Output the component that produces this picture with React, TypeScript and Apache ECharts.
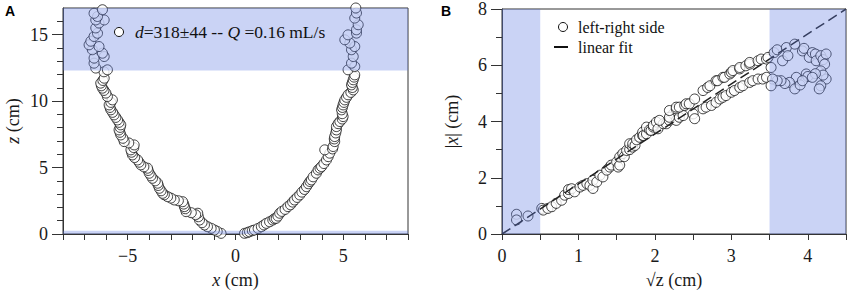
import React, { useEffect, useRef } from "react";
import * as echarts from "echarts";

// ---------- Panel A data: interface shape (x, z) in cm ----------
const leftBranch: number[][] = [
  [-0.67, 0.05], [-0.85, 0.2], [-0.98, 0.3], [-1.13, 0.43], [-1.3, 0.55], [-1.44, 0.68], [-1.55, 0.85],
  [-1.67, 1.05], [-1.72, 1.3], [-1.75, 1.56], [-1.85, 1.45], [-2.05, 1.6], [-2.29, 1.68], [-2.33, 1.9],
  [-2.37, 2.06], [-2.4, 2.25], [-2.45, 2.43], [-2.65, 2.5], [-2.84, 2.56], [-3.0, 2.7], [-3.15, 2.81],
  [-3.3, 2.95], [-3.38, 3.06], [-3.45, 3.25], [-3.53, 3.44], [-3.58, 3.65], [-3.61, 3.82], [-3.72, 4.0],
  [-3.85, 4.19], [-3.92, 4.38], [-4.0, 4.57], [-4.05, 4.78], [-4.08, 4.95], [-4.25, 5.05], [-4.39, 5.2],
  [-4.47, 5.4], [-4.54, 5.57], [-4.68, 5.75], [-4.78, 5.95], [-4.82, 6.15], [-4.85, 6.33], [-4.72, 6.5],
  [-4.7, 6.7], [-4.95, 6.85], [-5.16, 6.95], [-5.22, 7.2], [-5.32, 7.45], [-5.36, 7.65], [-5.4, 7.83],
  [-5.35, 8.02], [-5.32, 8.21], [-5.4, 8.4], [-5.47, 8.58], [-5.55, 8.77], [-5.63, 8.96], [-5.7, 9.15],
  [-5.78, 9.34], [-5.82, 9.52], [-5.86, 9.71], [-5.78, 9.9], [-5.71, 10.09], [-5.94, 10.34], [-6.01, 10.6],
  [-6.1, 10.8], [-6.17, 10.97], [-6.22, 11.15], [-6.25, 11.35], [-6.15, 11.55], [-6.09, 11.72], [-6.1, 12.2],
  [-5.94, 12.35], [-6.48, 12.48], [-6.56, 12.85], [-6.56, 13.23], [-6.09, 13.35], [-6.17, 13.6], [-6.64, 13.86],
  [-6.33, 14.1], [-6.79, 14.23], [-6.71, 14.5], [-6.56, 14.86], [-6.4, 15.1], [-6.48, 15.5], [-6.33, 15.87],
  [-6.09, 16.1], [-6.48, 16.1], [-6.4, 16.36], [-6.56, 16.6], [-6.17, 16.87],
];
const rightBranch: number[][] = [
  [0.42, 0.05], [0.55, 0.1], [0.65, 0.17], [0.78, 0.25], [0.88, 0.3], [1.05, 0.42], [1.2, 0.55], [1.32, 0.68],
  [1.43, 0.8], [1.58, 0.92], [1.73, 1.05], [1.81, 1.15], [1.89, 1.18], [1.97, 1.35], [2.05, 1.56], [2.15, 1.7],
  [2.3, 1.85], [2.43, 2.06], [2.55, 2.2], [2.65, 2.4], [2.74, 2.56], [2.86, 2.75], [2.98, 2.94], [3.08, 3.15],
  [3.2, 3.35], [3.29, 3.56], [3.38, 3.78], [3.45, 3.95], [3.52, 4.07], [3.6, 4.3], [3.75, 4.57], [3.83, 4.82],
  [3.92, 4.95], [3.99, 5.07], [4.1, 5.3], [4.22, 5.57], [4.3, 5.82], [4.37, 6.08], [4.14, 6.33], [4.5, 6.4],
  [4.53, 6.58], [4.6, 6.95], [4.58, 7.15], [4.6, 7.33], [4.65, 7.6], [4.68, 7.83], [4.68, 8.08], [4.76, 8.3],
  [4.84, 8.46], [4.95, 8.65], [4.99, 8.83], [4.95, 9.05], [4.92, 9.34], [4.96, 9.52], [4.99, 9.71], [5.03, 9.9],
  [5.07, 10.09], [5.15, 10.28], [5.22, 10.47], [5.35, 10.65], [5.46, 10.84], [5.42, 11.02], [5.38, 11.22],
  [5.42, 11.4], [5.46, 11.6], [5.5, 11.8], [5.53, 11.97], [5.22, 12.35], [5.53, 12.6], [5.38, 12.85],
  [5.46, 13.35], [5.38, 13.86], [5.53, 14.1], [5.3, 14.36], [5.07, 14.61], [5.22, 14.98], [5.61, 15.11],
  [5.61, 15.36], [5.69, 15.74], [5.53, 16.24], [5.61, 16.62], [5.58, 17.0],
];
// shaded bands in panel A: [xFrom, xTo, zFrom, zTo]
const shadeA: number[][] = [[-8, 8, 12.3, 17], [-8, 8, 0, 0.25]];

// ---------- Panel B data: |x| vs sqrt(z) ----------
const sideLow: number[][] = [
  [0.19, 0.7], [0.19, 0.5], [0.34, 0.64],
  [0.52, 0.91], [0.54, 0.85], [0.6, 0.91], [0.65, 0.97], [0.71, 1.09], [0.78, 1.2], [0.82, 1.38], [0.87, 1.44],
  [0.87, 1.58], [0.91, 1.61], [0.95, 1.5], [1.02, 1.67], [1.06, 1.73], [1.11, 1.79], [1.15, 1.73], [1.19, 1.62],
  [1.19, 1.91], [1.24, 1.85], [1.28, 2.09], [1.32, 2.03], [1.37, 2.27], [1.41, 2.38], [1.43, 2.45], [1.5, 2.56],
  [1.52, 2.38], [1.54, 2.45], [1.54, 2.74], [1.58, 2.86], [1.6, 2.75], [1.63, 2.97], [1.67, 3.0], [1.67, 3.21],
  [1.71, 3.09], [1.71, 3.21], [1.74, 3.15], [1.76, 3.35], [1.8, 3.44], [1.84, 3.5], [1.84, 3.62], [1.85, 3.5],
  [1.89, 3.56], [1.89, 3.8], [1.93, 3.7], [1.95, 3.68], [1.98, 3.8], [1.98, 3.86], [2.02, 3.98],
];
const sideUpperBand: number[][] = [
  [2.06, 4.04], [2.19, 4.15], [2.19, 4.39], [2.28, 4.45], [2.28, 4.51], [2.32, 4.51], [2.39, 4.57], [2.41, 4.63],
  [2.45, 4.63], [2.52, 4.8], [2.63, 5.1], [2.69, 5.21], [2.72, 5.27], [2.8, 5.45], [2.82, 5.45], [2.89, 5.57],
  [2.91, 5.57], [2.98, 5.69], [3.0, 5.75], [3.02, 5.81], [3.11, 5.87], [3.11, 5.92], [3.19, 5.98], [3.24, 6.04],
  [3.24, 6.1], [3.35, 6.16], [3.39, 6.22], [3.46, 6.22],
];
const sideLowerBand: number[][] = [
  [2.04, 3.74], [2.11, 3.92], [2.15, 3.92], [2.19, 4.04], [2.24, 4.27], [2.28, 4.04], [2.32, 4.15], [2.37, 4.21],
  [2.5, 4.27], [2.52, 4.1], [2.63, 4.45], [2.67, 4.51], [2.74, 4.57], [2.8, 4.68], [2.85, 4.8], [2.89, 4.86],
  [2.93, 4.92], [3.0, 5.04], [3.04, 5.1], [3.11, 5.21], [3.15, 5.27], [3.24, 5.39], [3.28, 5.45], [3.35, 5.51],
  [3.41, 5.51], [3.46, 5.57],
];
const sideTop: number[][] = [
  [3.48, 6.28], [3.56, 6.45], [3.6, 6.55], [3.67, 6.16], [3.72, 6.63], [3.74, 6.34], [3.83, 6.75], [3.93, 6.51],
  [3.95, 6.6], [4.02, 6.28], [4.06, 6.45], [4.1, 6.4], [4.11, 6.16], [4.17, 6.34], [4.2, 6.2], [4.24, 6.4],
  [4.22, 6.04], [4.17, 5.8], [4.24, 5.51], [4.2, 5.65], [3.98, 5.69], [4.0, 5.6], [4.1, 5.7], [3.85, 5.57],
  [3.76, 5.39], [3.7, 5.35], [3.65, 5.45], [3.6, 5.45], [3.54, 5.51], [3.52, 5.92], [3.52, 5.27], [3.83, 5.16],
  [3.9, 5.3], [3.93, 5.45], [4.06, 5.57], [4.17, 5.27], [4.15, 5.16],
];
const fitLine: number[][] = [[0, 0], [4.5, 8]];
const shadeB: number[][] = [[0, 0.5, 0, 8], [3.5, 4.5, 0, 8]];

// ---------- ticks ----------
const aXTicks = [-8, -7, -6, -5, -4, -3, -2, -1, 0, 1, 2, 3, 4, 5, 6, 7, 8];
const aXLabels = [-5, 0, 5];
const aYLabels = [0, 5, 10, 15];
const aYMinor = [1, 2, 3, 4, 6, 7, 8, 9, 11, 12, 13, 14, 16];
const bXTicks = [0, 0.5, 1, 1.5, 2, 2.5, 3, 3.5, 4, 4.5];
const bXLabels = [0, 1, 2, 3, 4];
const bYLabels = [0, 2, 4, 6, 8];
const bYMinor = [1, 3, 5, 7];

const SERIF = "Liberation Serif";
const AX = "#333";
const fmt = (v: number) => String(v).replace("-", "\u2212");
const labelStyle = { fontFamily: SERIF, fontSize: 18, color: "#1a1a1a" };
const nameStyle = {
  fontFamily: SERIF, fontSize: 18, color: "#1a1a1a",
  rich: { i: { fontFamily: SERIF, fontSize: 18, fontStyle: "italic", color: "#1a1a1a" } },
};

function shadeItem(color: string) {
  return (params: any, api: any) => {
    const p0 = api.coord([api.value(0), api.value(3)]);
    const p1 = api.coord([api.value(1), api.value(2)]);
    return {
      type: "rect",
      shape: { x: p0[0], y: p0[1], width: p1[0] - p0[0], height: p1[1] - p0[1] },
      style: { fill: color },
    };
  };
}

const SHADE = "rgba(95,120,225,0.33)";
const markerStyle = { color: "#fff", borderColor: "#111", borderWidth: 1 };
const MS = 10;

export default function App() {
  const ref = useRef<HTMLDivElement>(null);
  useEffect(() => {
    document.body.style.margin = "0";
    const chart = echarts.init(ref.current!, null, { renderer: "svg" });
    const majorX = (gridIndex: number, min: number, max: number, ticks: number[], labels: number[], name: string) => ({
      gridIndex, type: "value", min, max, position: "bottom",
      axisLine: { show: true, onZero: false, lineStyle: { color: AX, width: 1 } },
      axisTick: { show: true, customValues: ticks, length: 6, lineStyle: { color: AX } },
      axisLabel: { customValues: labels, formatter: fmt, margin: 13, ...labelStyle },
      splitLine: { show: false },
      name, nameLocation: "middle", nameGap: 37, nameTextStyle: nameStyle,
    });
    const majorY = (gridIndex: number, min: number, max: number, labels: number[], name: string) => ({
      gridIndex, type: "value", min, max, position: "left",
      axisLine: { show: true, onZero: false, lineStyle: { color: AX, width: 1 } },
      axisTick: { show: true, customValues: labels, length: 11, lineStyle: { color: AX } },
      axisLabel: { customValues: labels, formatter: fmt, margin: 15, ...labelStyle },
      splitLine: { show: false },
      name, nameLocation: "middle", nameGap: 41, nameTextStyle: nameStyle,
    });
    const minorY = (gridIndex: number, min: number, max: number, ticks: number[]) => ({
      gridIndex, type: "value", min, max, position: "left",
      axisLine: { show: false, onZero: false },
      axisTick: { show: true, customValues: ticks, length: 6, lineStyle: { color: AX } },
      axisLabel: { show: false },
      splitLine: { show: false },
    });
    const option: any = {
      animation: false,
      grid: [
        { left: 63, top: 8, width: 345, height: 226, show: true, borderColor: AX, borderWidth: 1, backgroundColor: "transparent" },
        { left: 502, top: 8, width: 344, height: 226, show: true, borderColor: AX, borderWidth: 1, backgroundColor: "transparent" },
      ],
      xAxis: [
        majorX(0, -8, 8, aXTicks, aXLabels, "{i|x} (cm)"),
        majorX(1, 0, 4.5, bXTicks, bXLabels, "\u221Az (cm)"),
      ],
      yAxis: [
        majorY(0, 0, 17, aYLabels, "{i|z} (cm)"),
        minorY(0, 0, 17, aYMinor),
        majorY(1, 0, 8, bYLabels, "|{i|x}| (cm)"),
        minorY(1, 0, 8, bYMinor),
      ],
      series: [
        {
          type: "scatter", xAxisIndex: 0, yAxisIndex: 0, data: leftBranch, symbolSize: MS,
          itemStyle: markerStyle, clip: false, z: 2,
        },
        {
          type: "scatter", xAxisIndex: 0, yAxisIndex: 0, data: rightBranch, symbolSize: MS,
          itemStyle: markerStyle, clip: false, z: 2,
        },
        {
          type: "custom", xAxisIndex: 0, yAxisIndex: 0, data: shadeA, renderItem: shadeItem(SHADE),
          encode: { x: [0, 1], y: [2, 3] }, z: 5, silent: true,
        },
        ...[sideLow, sideLowerBand, sideUpperBand, sideTop].map((d) => ({
          type: "scatter", xAxisIndex: 1, yAxisIndex: 2, data: d, symbolSize: MS,
          itemStyle: markerStyle, clip: false, z: 2,
        })),
        {
          type: "line", xAxisIndex: 1, yAxisIndex: 2, data: fitLine, symbol: "none",
          lineStyle: { color: "#222", width: 1.5, type: [10, 5] }, z: 3,
        },
        {
          type: "custom", xAxisIndex: 1, yAxisIndex: 2, data: shadeB, renderItem: shadeItem(SHADE),
          encode: { x: [0, 1], y: [2, 3] }, z: 5, silent: true,
        },
      ],
      graphic: [
        { type: "text", x: 5, y: 4, z: 100, style: { text: "A", fontFamily: "Liberation Sans", fontWeight: "bold", fontSize: 14, fill: "#000" } },
        { type: "text", x: 441, y: 4, z: 100, style: { text: "B", fontFamily: "Liberation Sans", fontWeight: "bold", fontSize: 14, fill: "#000" } },
        { type: "circle", z: 100, shape: { cx: 119, cy: 32, r: 4.5 }, style: { fill: "#fff", stroke: "#111", lineWidth: 1 } },
        {
          type: "text", x: 135, y: 32, z: 100,
          style: {
            text: "{i|d}=318\u00B144 -- {i|Q} =0.16 mL/s", fontFamily: SERIF, fontSize: 17.5, fill: "#111",
            verticalAlign: "middle",
            rich: { i: { fontFamily: SERIF, fontSize: 17.5, fontStyle: "italic", fill: "#111", color: "#111" } },
          },
        },
        { type: "circle", z: 100, shape: { cx: 563, cy: 27, r: 4.5 }, style: { fill: "#fff", stroke: "#111", lineWidth: 1 } },
        { type: "text", x: 578, y: 27, z: 100, style: { text: "left-right side", fontFamily: SERIF, fontSize: 16, fill: "#111", verticalAlign: "middle" } },
        { type: "line", z: 100, shape: { x1: 554, y1: 47, x2: 568, y2: 47 }, style: { stroke: "#111", lineWidth: 2 } },
        { type: "text", x: 578, y: 47, z: 100, style: { text: "linear fit", fontFamily: SERIF, fontSize: 16, fill: "#111", verticalAlign: "middle" } },
      ],
    };
    chart.setOption(option);
    return () => chart.dispose();
  }, []);
  return <div ref={ref} style={{ width: 851, height: 297 }} />;
}
